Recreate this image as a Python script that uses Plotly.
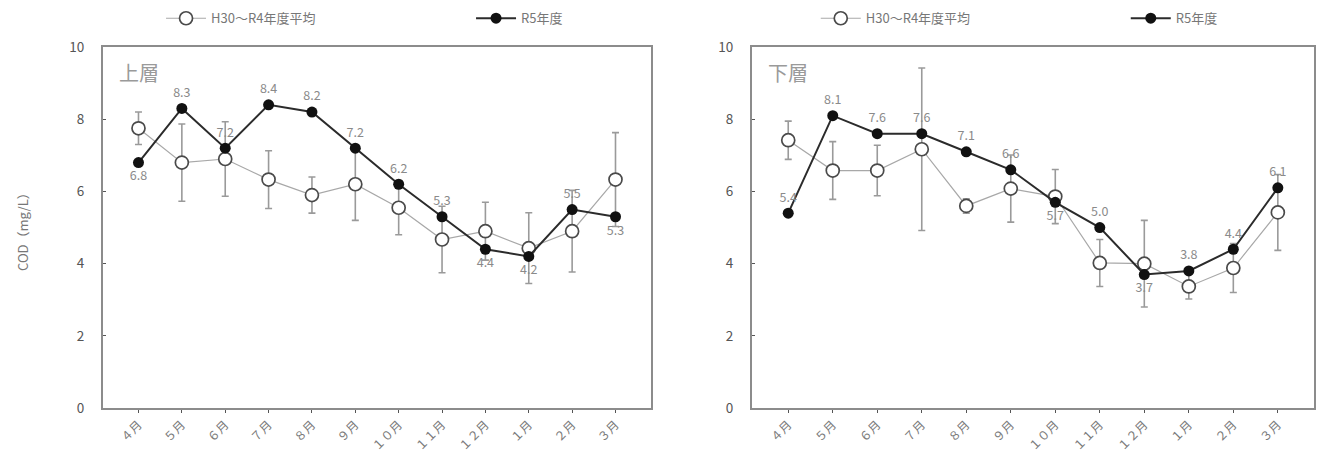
import plotly.graph_objects as go

# Months (fiscal year order, April → March)
months = ["４月", "５月", "６月", "７月", "８月", "９月", "１０月", "１１月", "１２月", "１月", "２月", "３月"]

# 上層 (upper layer) COD, mg/L
upper_avg = [7.75, 6.8, 6.9, 6.33, 5.9, 6.2, 5.55, 4.67, 4.9, 4.43, 4.9, 6.33]
upper_sd = [0.45, 1.07, 1.03, 0.8, 0.5, 1.0, 0.75, 0.92, 0.8, 0.98, 1.13, 1.3]
upper_r5 = [6.8, 8.3, 7.2, 8.4, 8.2, 7.2, 6.2, 5.3, 4.4, 4.2, 5.5, 5.3]
upper_lbl_pos = ["bottom", "top", "top", "top", "top", "top", "top", "top", "bottom", "bottom", "top", "bottom"]

# 下層 (lower layer) COD, mg/L
lower_avg = [7.42, 6.58, 6.58, 7.17, 5.6, 6.08, 5.86, 4.02, 4.0, 3.37, 3.88, 5.42]
lower_sd = [0.53, 0.8, 0.7, 2.25, 0.2, 0.93, 0.75, 0.65, 1.2, 0.35, 0.68, 1.05]
lower_r5 = [5.4, 8.1, 7.6, 7.6, 7.1, 6.6, 5.7, 5.0, 3.7, 3.8, 4.4, 6.1]
lower_lbl_pos = ["top", "top", "top", "top", "top", "top", "bottom", "top", "bottom", "top", "top", "top"]

avg_name = "H30～R4年度平均"
r5_name = "R5年度"
FONT = "Noto Sans CJK JP"

fig = go.Figure()


def add_panel(xa, ya, avg, sd, r5, lbl_pos, legend_id):
    fig.add_trace(go.Scatter(
        x=months, y=avg, name=avg_name, mode="lines+markers",
        xaxis=xa, yaxis=ya, legend=legend_id,
        line=dict(color="#a8a8a8", width=1.2),
        marker=dict(symbol="circle", size=13, color="white",
                    line=dict(color="#4a4a4a", width=1.7)),
        error_y=dict(type="data", array=sd, visible=True,
                     color="#9a9a9a", thickness=1.6, width=3.5),
    ))
    fig.add_trace(go.Scatter(
        x=months, y=r5, name=r5_name, mode="lines+markers",
        xaxis=xa, yaxis=ya, legend=legend_id,
        line=dict(color="#2b2b2b", width=2),
        marker=dict(symbol="circle", size=11, color="#111111"),
    ))
    # value labels, offset from the points by an invisible marker
    fig.add_trace(go.Scatter(
        x=months, y=r5, mode="markers+text", showlegend=False,
        xaxis=xa, yaxis=ya,
        marker=dict(size=12, color="rgba(0,0,0,0)"),
        text=[f"{v:.1f}" for v in r5],
        textposition=[p + " center" for p in lbl_pos],
        textfont=dict(family=FONT, size=12.5, color="#8a8a8a"),
        hoverinfo="skip",
    ))


add_panel("x", "y", upper_avg, upper_sd, upper_r5, upper_lbl_pos, "legend")
add_panel("x2", "y2", lower_avg, lower_sd, lower_r5, lower_lbl_pos, "legend2")

xaxis_style = dict(
    showline=True, linecolor="#8c8c8c", linewidth=2, mirror=True,
    ticks="outside", ticklen=3, tickcolor="#555", tickangle=-45,
    tickfont=dict(family=FONT, size=12, color="#7a7a7a"),
    showgrid=False, zeroline=False, fixedrange=True,
)
yaxis_style = dict(
    range=[0, 10], dtick=2, showline=True, linecolor="#8c8c8c", linewidth=2,
    mirror=True, ticks="inside", ticklen=3, tickcolor="#555",
    tickfont=dict(family=FONT, size=13.5, color="#555"),
    ticklabelstandoff=14,
    showgrid=False, zeroline=False, fixedrange=True,
)

legend_style = dict(
    orientation="h", yanchor="middle", y=0.96, xanchor="left",
    font=dict(family=FONT, size=13, color="#777"),
    bgcolor="rgba(0,0,0,0)", entrywidth=255, itemwidth=40,
)

fig.update_layout(
    width=1320, height=457,
    margin=dict(l=0, r=0, t=0, b=0, autoexpand=False),
    paper_bgcolor="white", plot_bgcolor="white",
    xaxis=dict(domain=[0.078, 0.4932], **xaxis_style),
    yaxis=dict(domain=[0.107, 0.897], **yaxis_style),
    xaxis2=dict(domain=[0.5697, 0.9955], anchor="y2", **xaxis_style),
    yaxis2=dict(domain=[0.107, 0.897], anchor="x2", **yaxis_style),
    legend=dict(x=0.122, **legend_style),
    legend2=dict(x=0.618, **legend_style),
    font=dict(family=FONT),
    annotations=[
        dict(text="上層", xref="x domain", yref="y domain", x=0.025, y=0.975,
             xanchor="left", yanchor="top", showarrow=False,
             font=dict(family=FONT, size=20, color="#9a9a9a")),
        dict(text="下層", xref="x2 domain", yref="y2 domain", x=0.025, y=0.975,
             xanchor="left", yanchor="top", showarrow=False,
             font=dict(family=FONT, size=20, color="#9a9a9a")),
        dict(text="COD（mg/L）", xref="paper", yref="paper", x=0.017, y=0.5,
             xanchor="center", yanchor="middle", textangle=-90, showarrow=False,
             font=dict(family=FONT, size=13, color="#777")),
    ],
)

fig.write_html("out.html")
